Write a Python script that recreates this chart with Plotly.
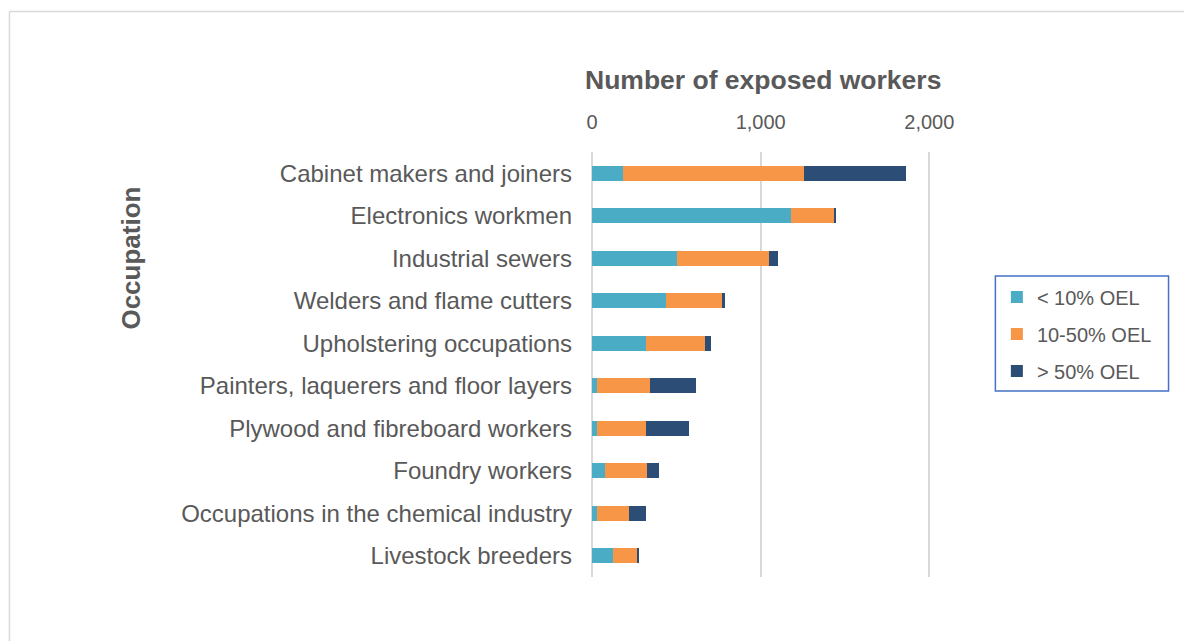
import plotly.graph_objects as go

occupations = [
    "Cabinet makers and joiners",
    "Electronics workmen",
    "Industrial sewers",
    "Welders and flame cutters",
    "Upholstering occupations",
    "Painters, laquerers and floor layers",
    "Plywood and fibreboard workers",
    "Foundry workers",
    "Occupations in the chemical industry",
    "Livestock breeders",
]
series_names = ["< 10% OEL", "10-50% OEL", "> 50% OEL"]
below_10 = [181, 1177, 505, 440, 323, 30, 30, 77, 30, 127]
from_10_to_50 = [1078, 260, 546, 331, 347, 315, 289, 248, 188, 137]
above_50 = [604, 4, 49, 20, 34, 273, 256, 70, 103, 14]
x_ticks = [0, 1000, 2000]
x_tick_labels = ["0", "1,000", "2,000"]

colors = ["#4BACC6", "#F79646", "#2C4D75"]
text_color = "#595959"
grid_color = "#D9D9D9"
font_family = "Liberation Sans, Arial, sans-serif"

W, H = 1184, 641
L, T, B = 592, 152, 64
x_max = 2010
plot_w = 337 * x_max / 2000
R = W - L - plot_w
plot_h = H - T - B

def px_to_paper_x(px):
    return (px - L) / plot_w

def px_to_paper_y(py):
    return (H - B - py) / plot_h

fig = go.Figure()
for name, vals, col in zip(series_names, [below_10, from_10_to_50, above_50], colors):
    fig.add_trace(go.Bar(
        y=occupations, x=vals, name=name, orientation="h",
        marker=dict(color=col, line=dict(width=0)),
        legendgroup=name,
    ))

fig.update_layout(
    width=W, height=H,
    margin=dict(l=L, r=R, t=T, b=B, autoexpand=False),
    barmode="stack",
    bargap=0.64,
    paper_bgcolor="white",
    plot_bgcolor="white",
    font=dict(family=font_family, color=text_color),
    showlegend=True,
    legend=dict(
        x=px_to_paper_x(996.5), y=px_to_paper_y(277.5),
        xanchor="left", yanchor="top",
        borderwidth=0,
        font=dict(size=20, color=text_color, family=font_family),
        traceorder="grouped", tracegroupgap=8,
        bgcolor="rgba(0,0,0,0)",
    ),
    xaxis=dict(
        side="top", range=[0, x_max],
        tickvals=x_ticks, ticktext=x_tick_labels,
        tickfont=dict(size=20, color=text_color),
        showgrid=True, gridcolor=grid_color, gridwidth=1.5,
        zeroline=True, zerolinecolor=grid_color, zerolinewidth=1.5,
        showline=False, ticks="", ticklabelstandoff=18,
        fixedrange=True,
    ),
    yaxis=dict(
        autorange="reversed",
        tickfont=dict(size=24, color=text_color),
        showgrid=False, zeroline=False, showline=False, ticks="",
        ticklabelstandoff=19,
        fixedrange=True,
    ),
    annotations=[
        dict(text="<b>Number of exposed workers</b>", xref="paper", yref="paper",
             x=px_to_paper_x(763), y=px_to_paper_y(80), xanchor="center", yanchor="middle",
             showarrow=False, font=dict(size=26.5, color=text_color, family=font_family)),
        dict(text="<b>Occupation</b>", xref="paper", yref="paper",
             x=px_to_paper_x(131), y=px_to_paper_y(258), xanchor="center", yanchor="middle",
             textangle=-90, showarrow=False,
             font=dict(size=26, color=text_color, family=font_family)),
    ],
    shapes=[
        dict(type="line", xref="paper", yref="paper",
             x0=px_to_paper_x(10), x1=px_to_paper_x(1190),
             y0=px_to_paper_y(11.5), y1=px_to_paper_y(11.5),
             line=dict(color=grid_color, width=1.5)),
        dict(type="line", xref="paper", yref="paper",
             x0=px_to_paper_x(10), x1=px_to_paper_x(10),
             y0=px_to_paper_y(11.5), y1=px_to_paper_y(650),
             line=dict(color=grid_color, width=1.5)),
        dict(type="rect", xref="paper", yref="paper",
             x0=px_to_paper_x(995), x1=px_to_paper_x(1168),
             y0=px_to_paper_y(391), y1=px_to_paper_y(276),
             line=dict(color="#4472C4", width=1.5), fillcolor="rgba(0,0,0,0)"),
    ],
)

fig.write_html(
    "out.html",
    config={"displayModeBar": False},
    post_script="document.body.style.margin='0';document.body.style.overflow='hidden';",
)
